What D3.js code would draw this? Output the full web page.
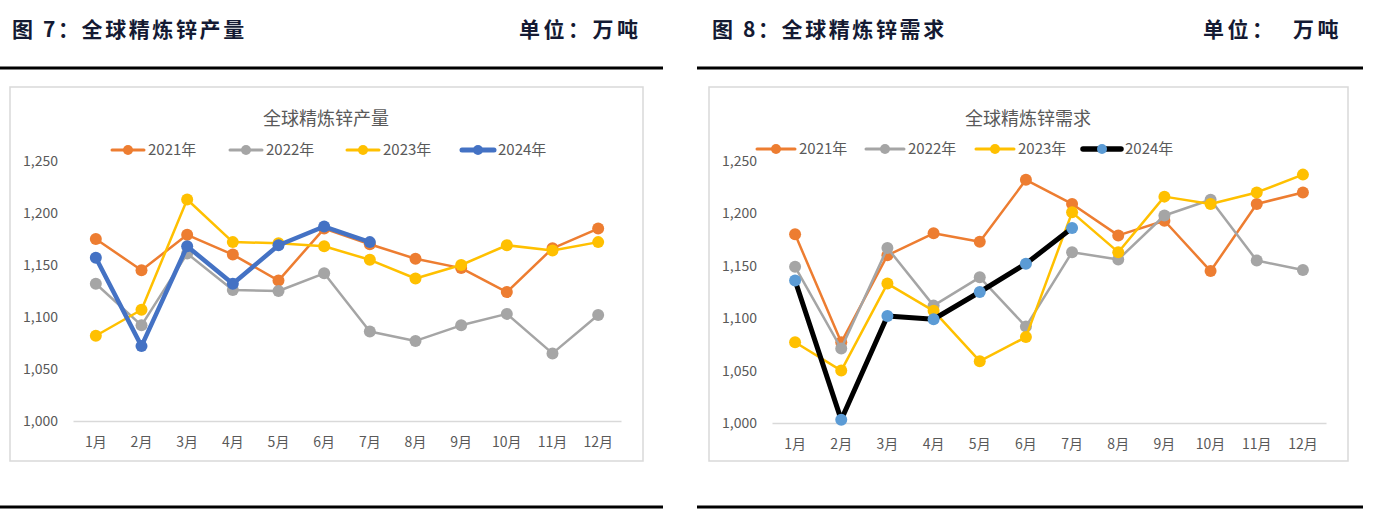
<!DOCTYPE html>
<html><head><meta charset="utf-8">
<script src="https://cdn.jsdelivr.net/npm/d3@7"></script>
<style>body{margin:0;background:#fff;}svg{display:block;}</style>
</head><body>
<svg id="c" width="1376" height="518"></svg>
<script>
const months = ["1月","2月","3月","4月","5月","6月","7月","8月","9月","10月","11月","12月"];
const yTicks = [1000, 1050, 1100, 1150, 1200, 1250];
const seriesNames = ["2021年","2022年","2023年","2024年"];

// 全球精炼锌产量 (万吨)
const prod2021 = [1175, 1145, 1179, 1160, 1135, 1185, 1170, 1156, 1147, 1124, 1166, 1185];
const prod2022 = [1132, 1092, 1161, 1126, 1125, 1142, 1086, 1077, 1092, 1103, 1065, 1102];
const prod2023 = [1082, 1107, 1213, 1172, 1171, 1168, 1155, 1137, 1150, 1169, 1164, 1172];
const prod2024 = [1157, 1072, 1168, 1132, 1169, 1187, 1172];

// 全球精炼锌需求 (万吨)
const dem2021 = [1180, 1077, 1160, 1181, 1173, 1232, 1209, 1179, 1193, 1145, 1209, 1220];
const dem2022 = [1149, 1071, 1167, 1112, 1139, 1092, 1163, 1156, 1198, 1213, 1155, 1146];
const dem2023 = [1077, 1050, 1133, 1107, 1059, 1082, 1201, 1163, 1216, 1209, 1220, 1237];
const dem2024 = [1136, 1003, 1102, 1099, 1125, 1152, 1186];

const svg = d3.select("#c");
const FONT = "'Noto Sans CJK SC', 'Noto Sans', sans-serif";

function panel(cfg){
  const g = svg.append("g");
  // header
  g.append("text").attr("x", cfg.hx).attr("y", 37)
    .attr("font-family", FONT).attr("font-weight", 700).attr("font-size", 21)
    .attr("letter-spacing", 2.6)
    .attr("fill", "#141a33").style("white-space","pre").text(cfg.header);
  g.append("text").attr("x", cfg.ux).attr("y", 37)
    .attr("font-family", FONT).attr("font-weight", 700).attr("font-size", 21)
    .attr("letter-spacing", 3.5)
    .attr("fill", "#141a33").style("white-space","pre").text(cfg.unit);
  g.append("rect").attr("x", cfg.lx0).attr("y", 66.5).attr("width", cfg.lx1 - cfg.lx0).attr("height", 3).attr("fill", "#000");
  g.append("rect").attr("x", cfg.lx0).attr("y", 505.5).attr("width", cfg.lx1 - cfg.lx0).attr("height", 3).attr("fill", "#000");
  // chart box
  g.append("rect").attr("x", cfg.bx0).attr("y", 87).attr("width", cfg.bx1 - cfg.bx0).attr("height", 374)
    .attr("fill", "#fff").attr("stroke", "#d9d9d9").attr("stroke-width", 1.5);
  // title
  g.append("text").attr("x", cfg.tx).attr("y", 125).attr("text-anchor","middle")
    .attr("font-family", FONT).attr("font-size", 18).attr("fill", "#595959").text(cfg.title);

  const x = d3.scaleBand().domain(months).range([cfg.px0, cfg.px1]);
  const y = d3.scaleLinear().domain([1000, 1250]).range([cfg.py0, cfg.py1]);

  // y axis labels
  const ya = g.append("g").attr("transform", `translate(${cfg.yl},0)`)
    .call(d3.axisLeft(y).tickValues(yTicks).tickSize(0).tickPadding(0).tickFormat(d3.format(",")));
  ya.select(".domain").remove();
  ya.selectAll("text").attr("font-family", FONT).attr("font-size", 14).attr("fill", "#595959");

  // x axis
  const xa = g.append("g").attr("transform", `translate(0,${cfg.py0})`)
    .call(d3.axisBottom(x).tickSize(0).tickPadding(16));
  xa.select(".domain").attr("stroke", "#d9d9d9").attr("stroke-width", 1.5);
  xa.selectAll("text").attr("font-family", FONT).attr("font-size", 14).attr("fill", "#595959");

  const line = d3.line().x((d,i) => x(months[i]) + x.bandwidth()/2).y(d => y(d));
  cfg.series.forEach(s => {
    g.append("path").datum(s.data).attr("d", line).attr("fill","none")
      .attr("stroke", s.line).attr("stroke-width", s.w).attr("stroke-linejoin","round");
    g.selectAll(null).data(s.data).enter().append("circle")
      .attr("cx", (d,i) => x(months[i]) + x.bandwidth()/2).attr("cy", d => y(d))
      .attr("r", s.r).attr("fill", s.marker);
  });

  // legend
  cfg.series.forEach((s, i) => {
    const lx = cfg.legX[i];
    g.append("line").attr("x1", lx).attr("x2", lx + cfg.legLen).attr("y1", cfg.legY).attr("y2", cfg.legY)
      .attr("stroke", s.line).attr("stroke-width", s.w + 0.5).attr("stroke-linecap","round");
    g.append("circle").attr("cx", lx + cfg.legLen/2).attr("cy", cfg.legY).attr("r", 5).attr("fill", s.marker);
    g.append("text").attr("x", lx + cfg.legLen + 4).attr("y", cfg.legY + 5)
      .attr("font-family", FONT).attr("font-size", 15).attr("fill", "#595959").text(seriesNames[i]);
  });
}

panel({
  header: "图 7：全球精炼锌产量", unit: "单位：万吨", hx: 12, ux: 519,
  lx0: 0, lx1: 663, bx0: 10, bx1: 643, tx: 326,
  title: "全球精炼锌产量",
  px0: 73, px1: 621, py0: 421, py1: 161, yl: 58,
  legX: [112, 230, 347, 462], legLen: 32, legY: 150,
  series: [
    {data: prod2021, line: "#ED7D31", marker: "#ED7D31", w: 2.5, r: 6},
    {data: prod2022, line: "#A5A5A5", marker: "#A5A5A5", w: 2.5, r: 6},
    {data: prod2023, line: "#FFC000", marker: "#FFC000", w: 2.5, r: 6},
    {data: prod2024, line: "#4472C4", marker: "#4472C4", w: 4.5, r: 6}
  ]
});

panel({
  header: "图 8：全球精炼锌需求", unit: "单位：  万吨", hx: 712, ux: 1203,
  lx0: 697, lx1: 1363, bx0: 709, bx1: 1348, tx: 1028,
  title: "全球精炼锌需求",
  px0: 772, px1: 1326, py0: 423, py1: 161, yl: 757,
  legX: [757, 866, 976, 1083], legLen: 38, legY: 149,
  series: [
    {data: dem2021, line: "#ED7D31", marker: "#ED7D31", w: 2.5, r: 6},
    {data: dem2022, line: "#A5A5A5", marker: "#A5A5A5", w: 2.5, r: 6},
    {data: dem2023, line: "#FFC000", marker: "#FFC000", w: 2.5, r: 6},
    {data: dem2024, line: "#000000", marker: "#5B9BD5", w: 5, r: 6}
  ]
});
</script>
</body></html>
